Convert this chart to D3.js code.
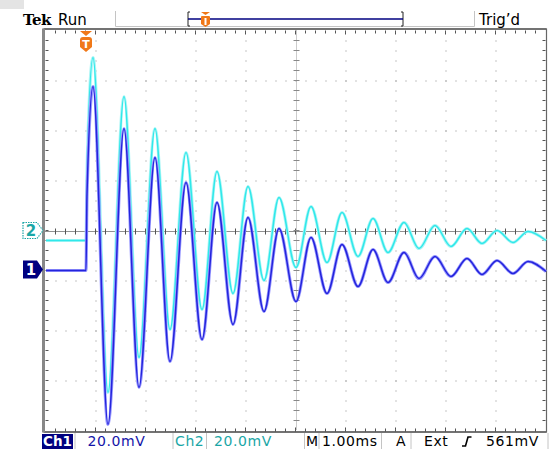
<!DOCTYPE html>
<html><head><meta charset="utf-8">
<script src="https://cdn.jsdelivr.net/npm/d3@7"></script>
<style>body{margin:0;background:#fff}svg{display:block}</style>
</head><body>
<svg id="c" width="549" height="449"></svg>
<script>
// time after trigger (ms) of baseline points and successive extrema
const timeMs = [-0.8, 0, 0.02, 0.14, 0.44, 0.76, 1.06, 1.38, 1.68, 2.00, 2.32, 2.62, 2.94, 3.24, 3.56, 3.86, 4.20, 4.50, 4.82, 5.12, 5.44, 5.74, 6.04, 6.36, 6.66, 6.98, 7.30, 7.62, 7.92, 8.22, 8.54, 8.84, 9.2];
const ch1mV = [-0.4, -0.4, 30, 73.2, -62, 56.4, -47.2, 44.8, -36.8, 34.8, -28, 26.8, -22, 20.8, -16.8, 16.4, -12.8, 12.8, -9.6, 10, -6.8, 8, -5.2, 6.8, -3.6, 5.2, -2.8, 4.4, -2, 3.6, -1.6, 3.2, -0.8];
const ch2mV = [-4, -4, 24, 69.2, -64.8, 53.6, -50.8, 40.8, -39.6, 31.2, -31.6, 23.6, -25.2, 17.6, -20, 13.2, -14.8, 9.6, -12.8, 7.2, -10.4, 4.8, -8.8, 3.2, -7.2, 2.0, -6.4, 0.8, -5.2, 0, -4.8, -0.4, -4];
const channelNames = ["Ch1", "Ch2"];
const voltsPerDiv = [20, 20];       // mV/div
const groundDiv = [-0.78, 0];       // ground position, divisions
const timePerDiv = 1.00;            // ms/div
const triggerLevel = "561mV";

const svg = d3.select("#c");
const gx0 = 45.5, gx1 = 545.5, gy0 = 30.5, gy1 = 430.5;
const x = d3.scaleLinear().domain([-0.81, -0.81 + 10 * timePerDiv]).range([gx0, gx1]);
const yDiv = d3.scaleLinear().domain([-4, 4]).range([gy1, gy0]);
const FONT = "DejaVu Sans, sans-serif";

// top-left gray tab
svg.append("rect").attr("x", 0).attr("y", 0).attr("width", 24).attr("height", 9).attr("fill", "#e4e4e4");

// ---- grid ----
const g = svg.append("g");
const dotCol = "#8c8c8c";
for (let i = 1; i < 10; i++) {
  if (i === 5) continue;
  const xx = Math.round(gx0 + i * 50);
  for (let yy = gy0 + 10; yy < gy1; yy += 10)
    g.append("rect").attr("x", xx - 0.5).attr("y", Math.round(yy) - 0.5).attr("width", 1).attr("height", 1).attr("fill", dotCol);
}
for (let j = 1; j < 8; j++) {
  if (j === 4) continue;
  const yy = Math.round(gy0 + j * 50);
  for (let xx = gx0 + 10; xx < gx1; xx += 10)
    g.append("rect").attr("x", Math.round(xx) - 0.5).attr("y", yy - 0.5).attr("width", 1).attr("height", 1).attr("fill", dotCol);
}
// center horizontal
const cy = Math.round(yDiv(0)) + 0.5;
g.append("line").attr("x1", gx0).attr("x2", gx1).attr("y1", cy).attr("y2", cy)
  .attr("stroke", "#222").attr("stroke-width", 1).attr("stroke-dasharray", "1,1");
for (let xx = gx0 + 10; xx < gx1; xx += 10)
  g.append("line").attr("x1", xx).attr("x2", xx).attr("y1", cy - 3).attr("y2", cy + 3).attr("stroke", "#555");
// center vertical
const cx = Math.round(gx0 + 250) + 0.5;
g.append("line").attr("x1", cx).attr("x2", cx).attr("y1", gy0).attr("y2", gy1)
  .attr("stroke", "#999").attr("stroke-width", 1).attr("stroke-dasharray", "1,1");
for (let yy = gy0 + 10; yy < gy1; yy += 10)
  g.append("line").attr("x1", cx - 3).attr("x2", cx + 3).attr("y1", yy).attr("y2", yy).attr("stroke", "#888");
// edge ticks
for (let xx = gx0 + 10; xx < gx1; xx += 10) {
  const big = Math.abs(((xx - gx0) % 50)) < 1;
  g.append("line").attr("x1", xx).attr("x2", xx).attr("y1", gy0).attr("y2", gy0 + (big ? 4 : 3)).attr("stroke", "#555");
  g.append("line").attr("x1", xx).attr("x2", xx).attr("y1", gy1 + 1).attr("y2", gy1 + 1 - (big ? 4 : 3)).attr("stroke", "#555");
}
for (let yy = gy0 + 10; yy < gy1; yy += 10) {
  g.append("line").attr("x1", gx0).attr("x2", gx0 + 3).attr("y1", yy).attr("y2", yy).attr("stroke", "#555");
  g.append("line").attr("x1", gx1).attr("x2", gx1 - 3).attr("y1", yy).attr("y2", yy).attr("stroke", "#555");
}
g.append("line").attr("x1", gx0 - 2).attr("x2", gx1 + 1).attr("y1", gy0 - 1.5).attr("y2", gy0 - 1.5).attr("stroke", "#444").attr("stroke-width", 1.4);
g.append("line").attr("x1", gx0 - 2).attr("x2", gx1 + 1).attr("y1", gy1 + 1.5).attr("y2", gy1 + 1.5).attr("stroke", "#444").attr("stroke-width", 1.4);
g.append("line").attr("x1", gx0 - 2).attr("x2", gx0 - 2).attr("y1", gy0 - 2).attr("y2", gy1 + 2).attr("stroke", "#888").attr("stroke-width", 3);
g.append("line").attr("x1", gx1 + 1).attr("x2", gx1 + 1).attr("y1", gy0 - 2).attr("y2", gy1 + 2).attr("stroke", "#666").attr("stroke-width", 1.2);

// ---- traces ----
const series = [
  { vals: ch2mV, ch: 1, halo: "#aef6f6", core: "#30e8ea" },
  { vals: ch1mV, ch: 0, halo: "#9a9aff", core: "#2424dc" }
];
series.forEach(s => {
  const line = d3.line()
    .x((d, i) => x(timeMs[i]))
    .y(d => yDiv(groundDiv[s.ch] + d / voltsPerDiv[s.ch]))
    .curve(d3.curveMonotoneX);
  svg.append("path").attr("d", line(s.vals)).attr("fill", "none").attr("stroke", s.halo).attr("stroke-width", 3.2);
  svg.append("path").attr("d", line(s.vals)).attr("fill", "none").attr("stroke", s.core).attr("stroke-width", 1.5);
});

// ---- ground markers ----
const teal = "#1aa6a6", navy = "#000080";
const m2 = yDiv(groundDiv[1]), m1 = yDiv(groundDiv[0]);
svg.append("path").attr("d", `M23,${m2-8}H37L43,${m2}L37,${m2+8}H23Z`).attr("fill", "#fff").attr("stroke", teal).attr("stroke-width", 1.2).attr("stroke-dasharray", "1.5,1");
svg.append("text").attr("x", 31).attr("y", m2 + 5.5).attr("text-anchor", "middle").attr("font-family", FONT).attr("font-weight", "bold").attr("font-size", 15).attr("fill", teal).text("2");
svg.append("path").attr("d", `M23,${m1-9}H37L43,${m1}L37,${m1+9}H23Z`).attr("fill", navy);
svg.append("text").attr("x", 31).attr("y", m1 + 5.5).attr("text-anchor", "middle").attr("font-family", FONT).attr("font-weight", "bold").attr("font-size", 15).attr("fill", "#fff").text("1");

// ---- trigger marker ----
const orange = "#f07818";
const tx = x(0);
svg.append("path").attr("d", `M${tx-6},31H${tx+6}L${tx},36Z`).attr("fill", orange);
svg.append("path").attr("d", `M${tx-6},40Q${tx-6},37 ${tx-3},37H${tx+3}Q${tx+6},37 ${tx+6},40V47L${tx},52L${tx-6},47Z`).attr("fill", orange);
svg.append("text").attr("x", tx).attr("y", 48).attr("text-anchor", "middle").attr("font-family", FONT).attr("font-weight", "bold").attr("font-size", 11).attr("fill", "#fff").text("T");

// ---- top header ----
svg.append("text").attr("x", 23).attr("y", 25).attr("font-family", "DejaVu Serif, serif").attr("font-weight", "bold").attr("font-size", 15).attr("letter-spacing", -0.5).text("Tek");
svg.append("text").attr("x", 58).attr("y", 25).attr("font-family", FONT).attr("font-size", 15).text("Run");
svg.append("text").attr("x", 479).attr("y", 25).attr("font-family", FONT).attr("font-size", 15).text("Trig’d");
svg.append("path").attr("d", "M115.5,11V26.5H474.5V11").attr("fill", "none").attr("stroke", "#c4c4c4");
// record bar
svg.append("path").attr("d", "M190,12H188V26H190M401,12H403V26H401").attr("fill", "none").attr("stroke", "#222").attr("stroke-width", 1);
svg.append("line").attr("x1", 188).attr("x2", 403).attr("y1", 19).attr("y2", 19).attr("stroke", navy).attr("stroke-width", 1.5);
svg.append("path").attr("d", "M201,12H210L205.5,15Z").attr("fill", orange);
svg.append("path").attr("d", "M201,17Q201,16 202,16H209Q210,16 210,17V24L205.5,27L201,24Z").attr("fill", orange);
svg.append("rect").attr("x", 204.5).attr("y", 18).attr("width", 2).attr("height", 7).attr("fill", "#fff");

// ---- bottom status bar ----
const by = 445.5;
svg.append("rect").attr("x", 42).attr("y", 434).attr("width", 31).attr("height", 15).attr("fill", navy);
svg.append("text").attr("x", 57.5).attr("y", by).attr("text-anchor", "middle").attr("font-family", FONT).attr("font-weight", "bold").attr("font-size", 13.5).attr("fill", "#fff").text(channelNames[0]);
[75, 173, 206.5, 304.5, 319, 381.5, 411, 548].forEach(sx =>
  svg.append("line").attr("x1", sx).attr("x2", sx).attr("y1", 433).attr("y2", 449).attr("stroke", "#c4c4c4"));
const txt = (xx, s, col) => svg.append("text").attr("x", xx).attr("y", by).attr("font-family", FONT).attr("font-size", 14).attr("letter-spacing", 0.6).attr("fill", col).text(s);
txt(87.5, voltsPerDiv[0].toFixed(1) + "mV", "#1414a8");
txt(175, channelNames[1], teal);
txt(214, voltsPerDiv[1].toFixed(1) + "mV", teal);
txt(306, "M", "#000");
txt(322, timePerDiv.toFixed(2) + "ms", "#000");
txt(396, "A", "#000");
txt(424, "Ext", "#000");
svg.append("path").attr("d", "M462,446H465.5L468,437H471.5").attr("fill", "none").attr("stroke", "#000").attr("stroke-width", 1.6);
txt(486, triggerLevel, "#000");
</script>
</body></html>
